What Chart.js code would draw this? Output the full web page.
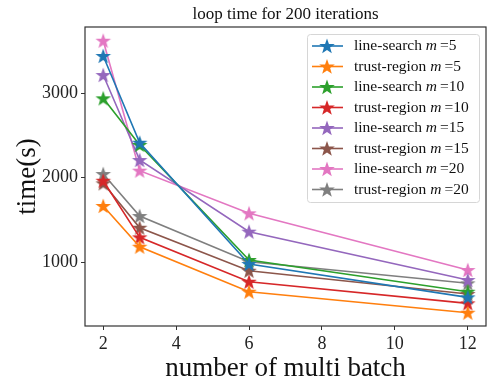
<!DOCTYPE html>
<html>
<head>
<meta charset="utf-8">
<script src="https://cdn.jsdelivr.net/npm/chart.js@4.4.1/dist/chart.umd.min.js"></script>
<style>
  html, body { margin: 0; padding: 0; background: #fff; }
  #wrap { width: 498px; height: 389px; }
</style>
</head>
<body>
<div id="wrap"><canvas id="chart" width="498" height="389"></canvas></div>
<script>
// data
const batches = [2, 3, 6, 12]
const xTicks = [2, 4, 6, 8, 10, 12]
const yTicks = [1000, 2000, 3000]

const lineSearch5 = [3438, 2412, 976, 582]
const trustRegion5 = [1663, 1181, 649, 400]
const lineSearch10 = [2937, 2385, 1024, 649]
const trustRegion10 = [1962, 1292, 767, 511]
const lineSearch15 = [3213, 2207, 1359, 787]
const trustRegion15 = [1931, 1406, 897, 621]
const lineSearch20 = [3619, 2081, 1576, 905]
const trustRegion20 = [2041, 1544, 1004, 748]

const series = [
  { method: "line-search", m: 5, values: lineSearch5, color: "#1f77b4" },
  { method: "trust-region", m: 5, values: trustRegion5, color: "#ff7f0e" },
  { method: "line-search", m: 10, values: lineSearch10, color: "#2ca02c" },
  { method: "trust-region", m: 10, values: trustRegion10, color: "#d62728" },
  { method: "line-search", m: 15, values: lineSearch15, color: "#9467bd" },
  { method: "trust-region", m: 15, values: trustRegion15, color: "#8c564b" },
  { method: "line-search", m: 20, values: lineSearch20, color: "#e377c2" },
  { method: "trust-region", m: 20, values: trustRegion20, color: "#7f7f7f" },
]

const FONT = "'Liberation Serif', serif"

// filled five point star, like matplotlib's '*' marker
function starPath(ctx, cx, cy, r) {
  ctx.beginPath()
  for (let i = 0; i < 10; i++) {
    const rad = i % 2 === 0 ? r : r * 0.4
    const a = -Math.PI / 2 + i * Math.PI / 5
    const px = cx + rad * Math.cos(a)
    const py = cy + rad * Math.sin(a)
    if (i === 0) ctx.moveTo(px, py)
    else ctx.lineTo(px, py)
  }
  ctx.closePath()
}

function starImage(color) {
  const c = document.createElement("canvas")
  c.width = 18
  c.height = 18
  const g = c.getContext("2d")
  starPath(g, 9, 9.6, 8.2)
  g.fillStyle = color
  g.fill()
  return c
}

const datasets = series.map((s) => ({
  label: s.method + " m =" + s.m,
  data: batches.map((b, i) => ({ x: b, y: s.values[i] })),
  borderColor: s.color,
  backgroundColor: s.color,
  borderWidth: 1.6,
  pointStyle: starImage(s.color),
  pointRadius: 9,
  tension: 0,
}))

// title over the plot, box around the axes, legend inside the plot
const framePlugin = {
  id: "frame",
  afterDraw(chart) {
    const { ctx, chartArea: a } = chart
    ctx.save()
    ctx.strokeStyle = "#333"
    ctx.lineWidth = 1.2
    ctx.strokeRect(a.left, a.top, a.right - a.left, a.bottom - a.top)

    ctx.fillStyle = "#111"
    ctx.font = "17px " + FONT
    ctx.textAlign = "center"
    ctx.textBaseline = "alphabetic"
    ctx.fillText("loop time for 200 iterations", (a.left + a.right) / 2, 19)
    ctx.textAlign = "left"

    // legend
    const bx = 307, by = 34, bw = 172, bh = 168
    ctx.beginPath()
    ctx.roundRect(bx + 0.5, by + 0.5, bw, bh, 3)
    ctx.fillStyle = "rgba(255,255,255,0.85)"
    ctx.fill()
    ctx.strokeStyle = "#d6d6d6"
    ctx.lineWidth = 1
    ctx.stroke()

    ctx.textBaseline = "middle"
    series.forEach((s, i) => {
      const y = 46 + i * 20.5
      ctx.strokeStyle = s.color
      ctx.lineWidth = 1.6
      ctx.beginPath()
      ctx.moveTo(312, y)
      ctx.lineTo(343, y)
      ctx.stroke()
      starPath(ctx, 327, y + 0.6, 8.2)
      ctx.fillStyle = s.color
      ctx.fill()

      ctx.fillStyle = "#111"
      let x = 354
      ctx.font = "15.5px " + FONT
      const t1 = s.method + " "
      ctx.fillText(t1, x, y)
      x += ctx.measureText(t1).width
      ctx.font = "italic 15.5px " + FONT
      ctx.fillText("m", x, y)
      x += ctx.measureText("m").width + 3
      ctx.font = "15.5px " + FONT
      ctx.fillText("=" + s.m, x, y)
    })
    ctx.restore()
  },
}

new Chart(document.getElementById("chart"), {
  type: "line",
  data: { datasets },
  plugins: [framePlugin],
  options: {
    responsive: false,
    animation: false,
    layout: { padding: { left: 8, right: 12, top: 27, bottom: 0 } },
    plugins: {
      legend: { display: false },
      tooltip: { enabled: false },
      title: { display: false },
    },
    scales: {
      x: {
        type: "linear",
        min: 1.5,
        max: 12.5,
        afterBuildTicks: (scale) => {
          scale.ticks = xTicks.map((v) => ({ value: v }))
        },
        afterFit: (scale) => {
          scale.height = 63
        },
        grid: { drawOnChartArea: false, drawTicks: true, tickLength: 4, color: "#333" },
        border: { display: false },
        ticks: {
          color: "#222",
          font: { family: FONT, size: 18 },
          padding: 3,
          maxRotation: 0,
          callback: (v) => String(v),
        },
        title: {
          display: true,
          text: "number of multi batch",
          color: "#111",
          font: { family: FONT, size: 27 },
          padding: { top: 6 },
        },
      },
      y: {
        min: 243,
        max: 3781,
        afterBuildTicks: (scale) => {
          scale.ticks = yTicks.map((v) => ({ value: v }))
        },
        afterFit: (scale) => {
          scale.width = 77
        },
        grid: { drawOnChartArea: false, drawTicks: true, tickLength: 4, color: "#333" },
        border: { display: false },
        ticks: {
          color: "#222",
          font: { family: FONT, size: 18 },
          padding: 3,
          callback: (v) => String(v),
        },
        title: {
          display: true,
          text: "time(s)",
          color: "#111",
          font: { family: FONT, size: 27 },
          padding: { bottom: 2 },
        },
      },
    },
  },
})
</script>
</body>
</html>
